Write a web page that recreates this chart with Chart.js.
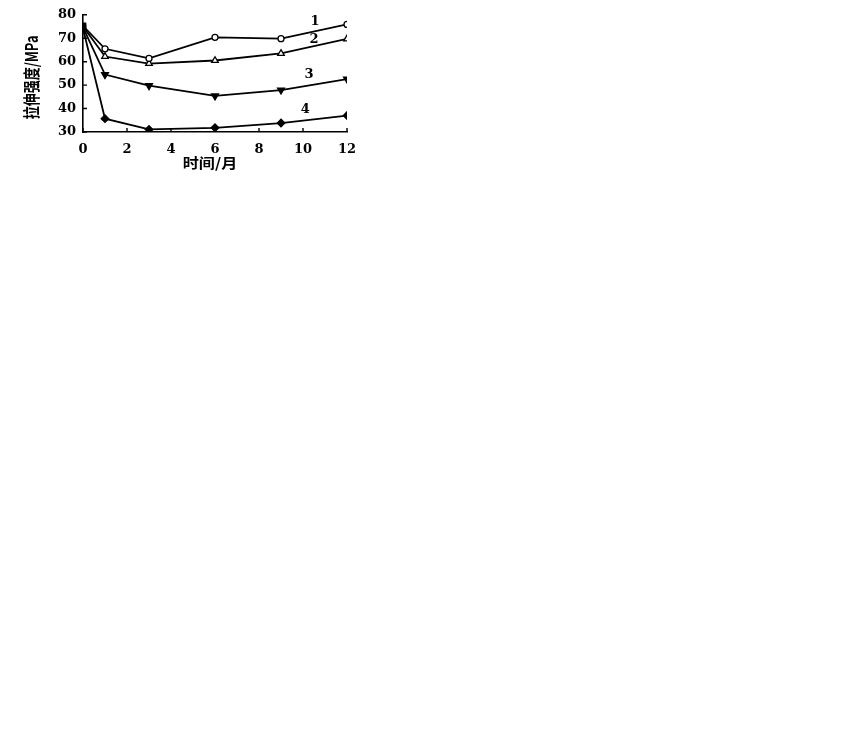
<!DOCTYPE html>
<html>
<head>
<meta charset="utf-8">
<script src="https://cdn.jsdelivr.net/npm/chart.js@4/dist/chart.umd.min.js"></script>
<style>
  html,body{margin:0;padding:0;background:#fff;width:864px;height:744px;overflow:hidden;}
  #wrap{position:absolute;left:0;top:0;width:370px;height:180px;}
</style>
</head>
<body>
<div id="wrap"><canvas id="c" width="370" height="180"></canvas></div>
<script>
// ---- data ----
const months = [0, 1, 3, 6, 9, 12];
const series1 = [75.3, 65.5, 61.4, 70.4, 69.8, 75.9];
const series2 = [75.0, 62.2, 59.2, 60.5, 63.5, 69.7];
const series3 = [74.6, 54.5, 49.8, 45.4, 47.9, 52.6];
const series4 = [74.2, 35.7, 31.1, 31.8, 33.8, 37.0];
const seriesNames = ['1', '2', '3', '4'];
const xTicks = [0, 2, 4, 6, 8, 10, 12];
const yTicks = [30, 40, 50, 60, 70, 80];
const xTitle = '时间/月';
const yTitle = '拉伸强度/MPa';
// curve label anchors (data units)
const labelAnchorX = [10.55, 10.5, 10.27, 10.1];
const labelAnchorY = [77.3, 69.6, 54.6, 39.6];

const tickFont = {family: "'DejaVu Serif', 'Liberation Serif', serif", size: 13, weight: 'bold'};

function toPts(arr){ return months.map((m,i)=>({x:m, y:arr[i]})); }

const styles = [
  {style:'circle', r:3, fill:'#fff'},
  {style:'triangle', r:3.8, fill:'#fff', rot:0},
  {style:'triangle', r:4, fill:'#000', rot:180},
  {style:'rectRot', r:3.8, fill:'#000'}
];
const allSeries = [series1, series2, series3, series4];

const datasets = allSeries.map((s, k) => ({
  label: seriesNames[k],
  data: toPts(s),
  borderColor: '#000',
  borderWidth: 1.8,
  tension: 0,
  pointStyle: ctx => ctx.dataIndex === 0 ? 'rect' : styles[k].style,
  pointRotation: ctx => ctx.dataIndex === 0 ? 0 : (styles[k].rot || 0),
  pointRadius: ctx => ctx.dataIndex === 0 ? 3.6 : styles[k].r,
  pointBackgroundColor: ctx => ctx.dataIndex === 0 ? '#000' : styles[k].fill,
  pointBorderColor: '#000',
  pointBorderWidth: 1.3
}));

const decor = {
  id: 'decor',
  afterDraw(chart) {
    const {ctx, chartArea: a, scales: {x, y}} = chart;
    ctx.save();
    ctx.strokeStyle = '#000';
    ctx.lineWidth = 1.4;
    // inward ticks
    ctx.beginPath();
    xTicks.forEach(v => { const px = x.getPixelForValue(v); ctx.moveTo(px, a.bottom); ctx.lineTo(px, a.bottom - 4); });
    yTicks.forEach(v => { const py = y.getPixelForValue(v); ctx.moveTo(a.left, py); ctx.lineTo(a.left + 4, py); });
    ctx.stroke();
    // curve labels
    ctx.fillStyle = '#000';
    ctx.font = "bold 13px 'DejaVu Serif', serif";
    ctx.textAlign = 'center';
    ctx.textBaseline = 'middle';
    seriesNames.forEach((n, k) => {
      ctx.fillText(n, x.getPixelForValue(labelAnchorX[k]), y.getPixelForValue(labelAnchorY[k]));
    });
    // y title
    ctx.save();
    ctx.translate(32, (a.top + a.bottom) / 2 + 4);
    ctx.scale(1.3, 1);
    ctx.rotate(-Math.PI / 2);
    ctx.font = "bold 13px 'Noto Sans CJK SC', 'Liberation Serif', serif";
    ctx.fillText(yTitle, 0, 0);
    ctx.restore();
    // x title
    ctx.save();
    ctx.translate((a.left + a.right) / 2 - 5, 163);
    ctx.scale(1.15, 1);
    ctx.font = "bold 14px 'Noto Sans CJK SC', sans-serif";
    ctx.fillText(xTitle, 0, 0);
    ctx.restore();
    ctx.restore();
  }
};

new Chart(document.getElementById('c'), {
  type: 'line',
  data: { datasets },
  options: {
    responsive: false,
    animation: false,
    devicePixelRatio: 1,
    layout: { padding: { left: 0, top: 11, right: 23, bottom: 0 } },
    plugins: { legend: { display: false }, tooltip: { enabled: false } },
    scales: {
      x: {
        type: 'linear', min: 0, max: 12,
        afterFit: s => { s.height = 48; },
        afterBuildTicks: s => { s.ticks = xTicks.map(v => ({value: v})); },
        grid: { display: false, drawTicks: false },
        border: { display: true, color: '#000', width: 1.6 },
        ticks: { color: '#000', font: tickFont, padding: 10, maxRotation: 0 }
      },
      y: {
        type: 'linear', min: 30, max: 80,
        afterFit: s => { s.width = 83; },
        afterBuildTicks: s => { s.ticks = yTicks.map(v => ({value: v})); },
        grid: { display: false, drawTicks: false },
        border: { display: true, color: '#000', width: 1.6 },
        ticks: { color: '#000', font: tickFont, padding: 7 }
      }
    }
  },
  plugins: [decor]
});
</script>
</body>
</html>
